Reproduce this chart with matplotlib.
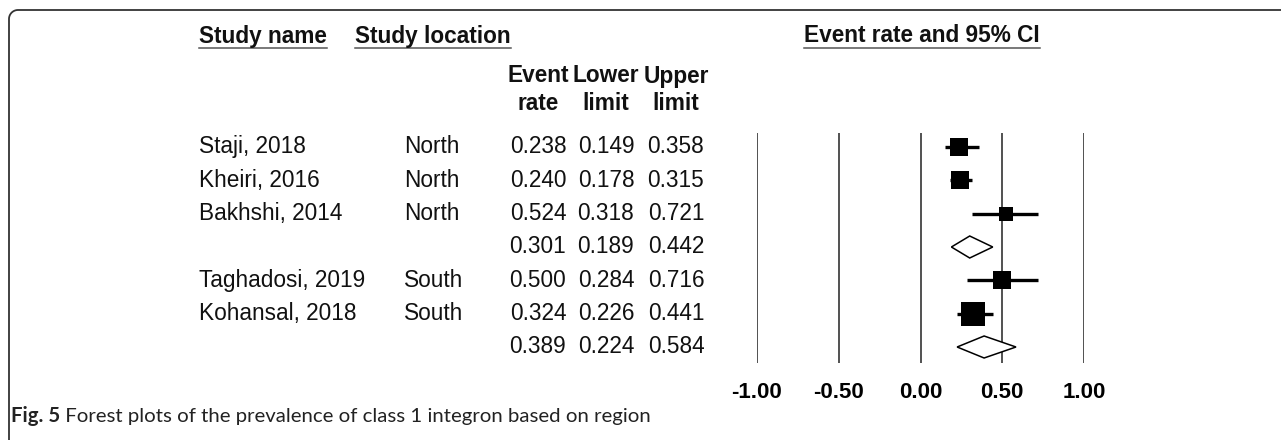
import numpy as np
import matplotlib
matplotlib.use("Agg")
import matplotlib.pyplot as plt
from matplotlib.transforms import blended_transform_factory

plt.rcParams['font.family'] = ['Liberation Sans', 'DejaVu Sans']

# data
study_names = ["Staji, 2018", "Kheiri, 2016", "Bakhshi, 2014", "",
               "Taghadosi, 2019", "Kohansal, 2018", ""]
locations = ["North", "North", "North", "", "South", "South", ""]
event_rate = [0.238, 0.240, 0.524, 0.301, 0.500, 0.324, 0.389]
lower_limit = [0.149, 0.178, 0.318, 0.189, 0.284, 0.226, 0.224]
upper_limit = [0.358, 0.315, 0.721, 0.442, 0.716, 0.441, 0.584]
is_summary = [False, False, False, True, False, False, True]
weights = [2.9, 3.6, 2.0, 0, 3.2, 5.3, 0]   # relative weights (box area)
xticks = [-1.0, -0.5, 0.0, 0.5, 1.0]
caption_bold = "Fig. 5"
caption_rest = " Forest plots of the prevalence of class 1 integron based on region"

W, H = 1281, 440
fig = plt.figure(figsize=(W / 100, H / 100), dpi=100)
fig.patch.set_facecolor("white")


def fx(px):
    return px / W


def fy(py):
    return 1 - py / H


# forest panel: x -1..1 spans px 757..1084, lines from y 133 to 363
ax = fig.add_axes([fx(757), fy(363), fx(1084) - fx(757), fy(133) - fy(363)])
ax.set_xlim(-1, 1)
ax.set_ylim(6.48, -0.42)
for s in ax.spines.values():
    s.set_visible(False)
ax.set_yticks([])
ax.set_xticks(xticks)
ax.set_xticklabels(["%.2f" % t for t in xticks], fontsize=16, fontweight="bold")
ax.tick_params(axis="x", length=0, pad=14)
for t in xticks:
    ax.axvline(t, color="#222222", lw=1.1, zorder=1)

rows = np.arange(len(event_rate))
for r, est, lo, hi, summ, w in zip(rows, event_rate, lower_limit, upper_limit,
                                   is_summary, weights):
    if summ:
        hh = 0.33
        ax.fill([lo, est, hi, est, lo], [r, r - hh, r, r + hh, r],
                facecolor="white", edgecolor="black", lw=1.1, zorder=3)
    else:
        ax.hlines(r, lo, hi, color="black", lw=2.4, zorder=2)
        side_px = 10 * np.sqrt(w)
        ax.plot(est, r, marker="s", color="black", ms=side_px * 0.72, mew=0,
                zorder=3)

# table text: x in figure fraction, y in row units
tr = blended_transform_factory(fig.transFigure, ax.transData)
fs = 16.3
for r in rows:
    ax.text(fx(199), r, study_names[r], transform=tr, fontsize=fs,
            ha="left", va="center", color="#111111")
    ax.text(fx(404), r, locations[r], transform=tr, fontsize=fs,
            ha="left", va="center", color="#111111")
    for cx, vals in zip([538, 606, 676], [event_rate, lower_limit, upper_limit]):
        ax.text(fx(cx), r, "%.3f" % vals[r], transform=tr, fontsize=fs,
                ha="center", va="center", color="#111111")

# column headers
for cx, top, bottom in zip([538, 606, 676], ["Event", "Lower", "Upper"],
                           ["rate", "limit", "limit"]):
    fig.text(fx(cx), fy(76), top, fontsize=fs, fontweight="bold",
             ha="center", va="center", color="#111111")
    fig.text(fx(cx), fy(104), bottom, fontsize=fs, fontweight="bold",
             ha="center", va="center", color="#111111")

# underlined section titles
fig.canvas.draw()
renderer = fig.canvas.get_renderer()
for x0, label, ha in [(199, "Study name", "left"), (355, "Study location", "left"),
                      (922, "Event rate and 95% CI", "center")]:
    t = fig.text(fx(x0), fy(36), label, fontsize=fs, fontweight="bold",
                 ha=ha, va="center", color="#111111")
    bb = t.get_window_extent(renderer)
    fig.add_artist(plt.Line2D([bb.x0 / W, bb.x1 / W], [fy(48.5), fy(48.5)],
                              transform=fig.transFigure, color="#555555", lw=1.1))

# caption
t1 = fig.text(fx(11), fy(416), caption_bold, fontsize=14.7, fontweight="bold",
              family=["Lato", "DejaVu Sans"], ha="left", va="center",
              color="#222222")
bb = t1.get_window_extent(renderer)
fig.text(bb.x1 / W, fy(416), caption_rest, fontsize=14.7,
         family=["Lato", "DejaVu Sans"], ha="left", va="center", color="#222222")

# rounded frame, open to the right and bottom
rad = 9
theta = np.linspace(np.pi, np.pi / 2, 20)
cx_, cy_ = 9 + rad, 10 + rad
arc_x = cx_ + rad * np.cos(theta)
arc_y = cy_ - rad * np.sin(theta)
px = np.concatenate([[9], arc_x, [W + 5]])
py = np.concatenate([[H + 5], arc_y, [10]])
fig.add_artist(plt.Line2D(px / W, 1 - py / H, transform=fig.transFigure,
                          color="#333333", lw=1.3))

fig.savefig("out.png", dpi=100, facecolor="white")
